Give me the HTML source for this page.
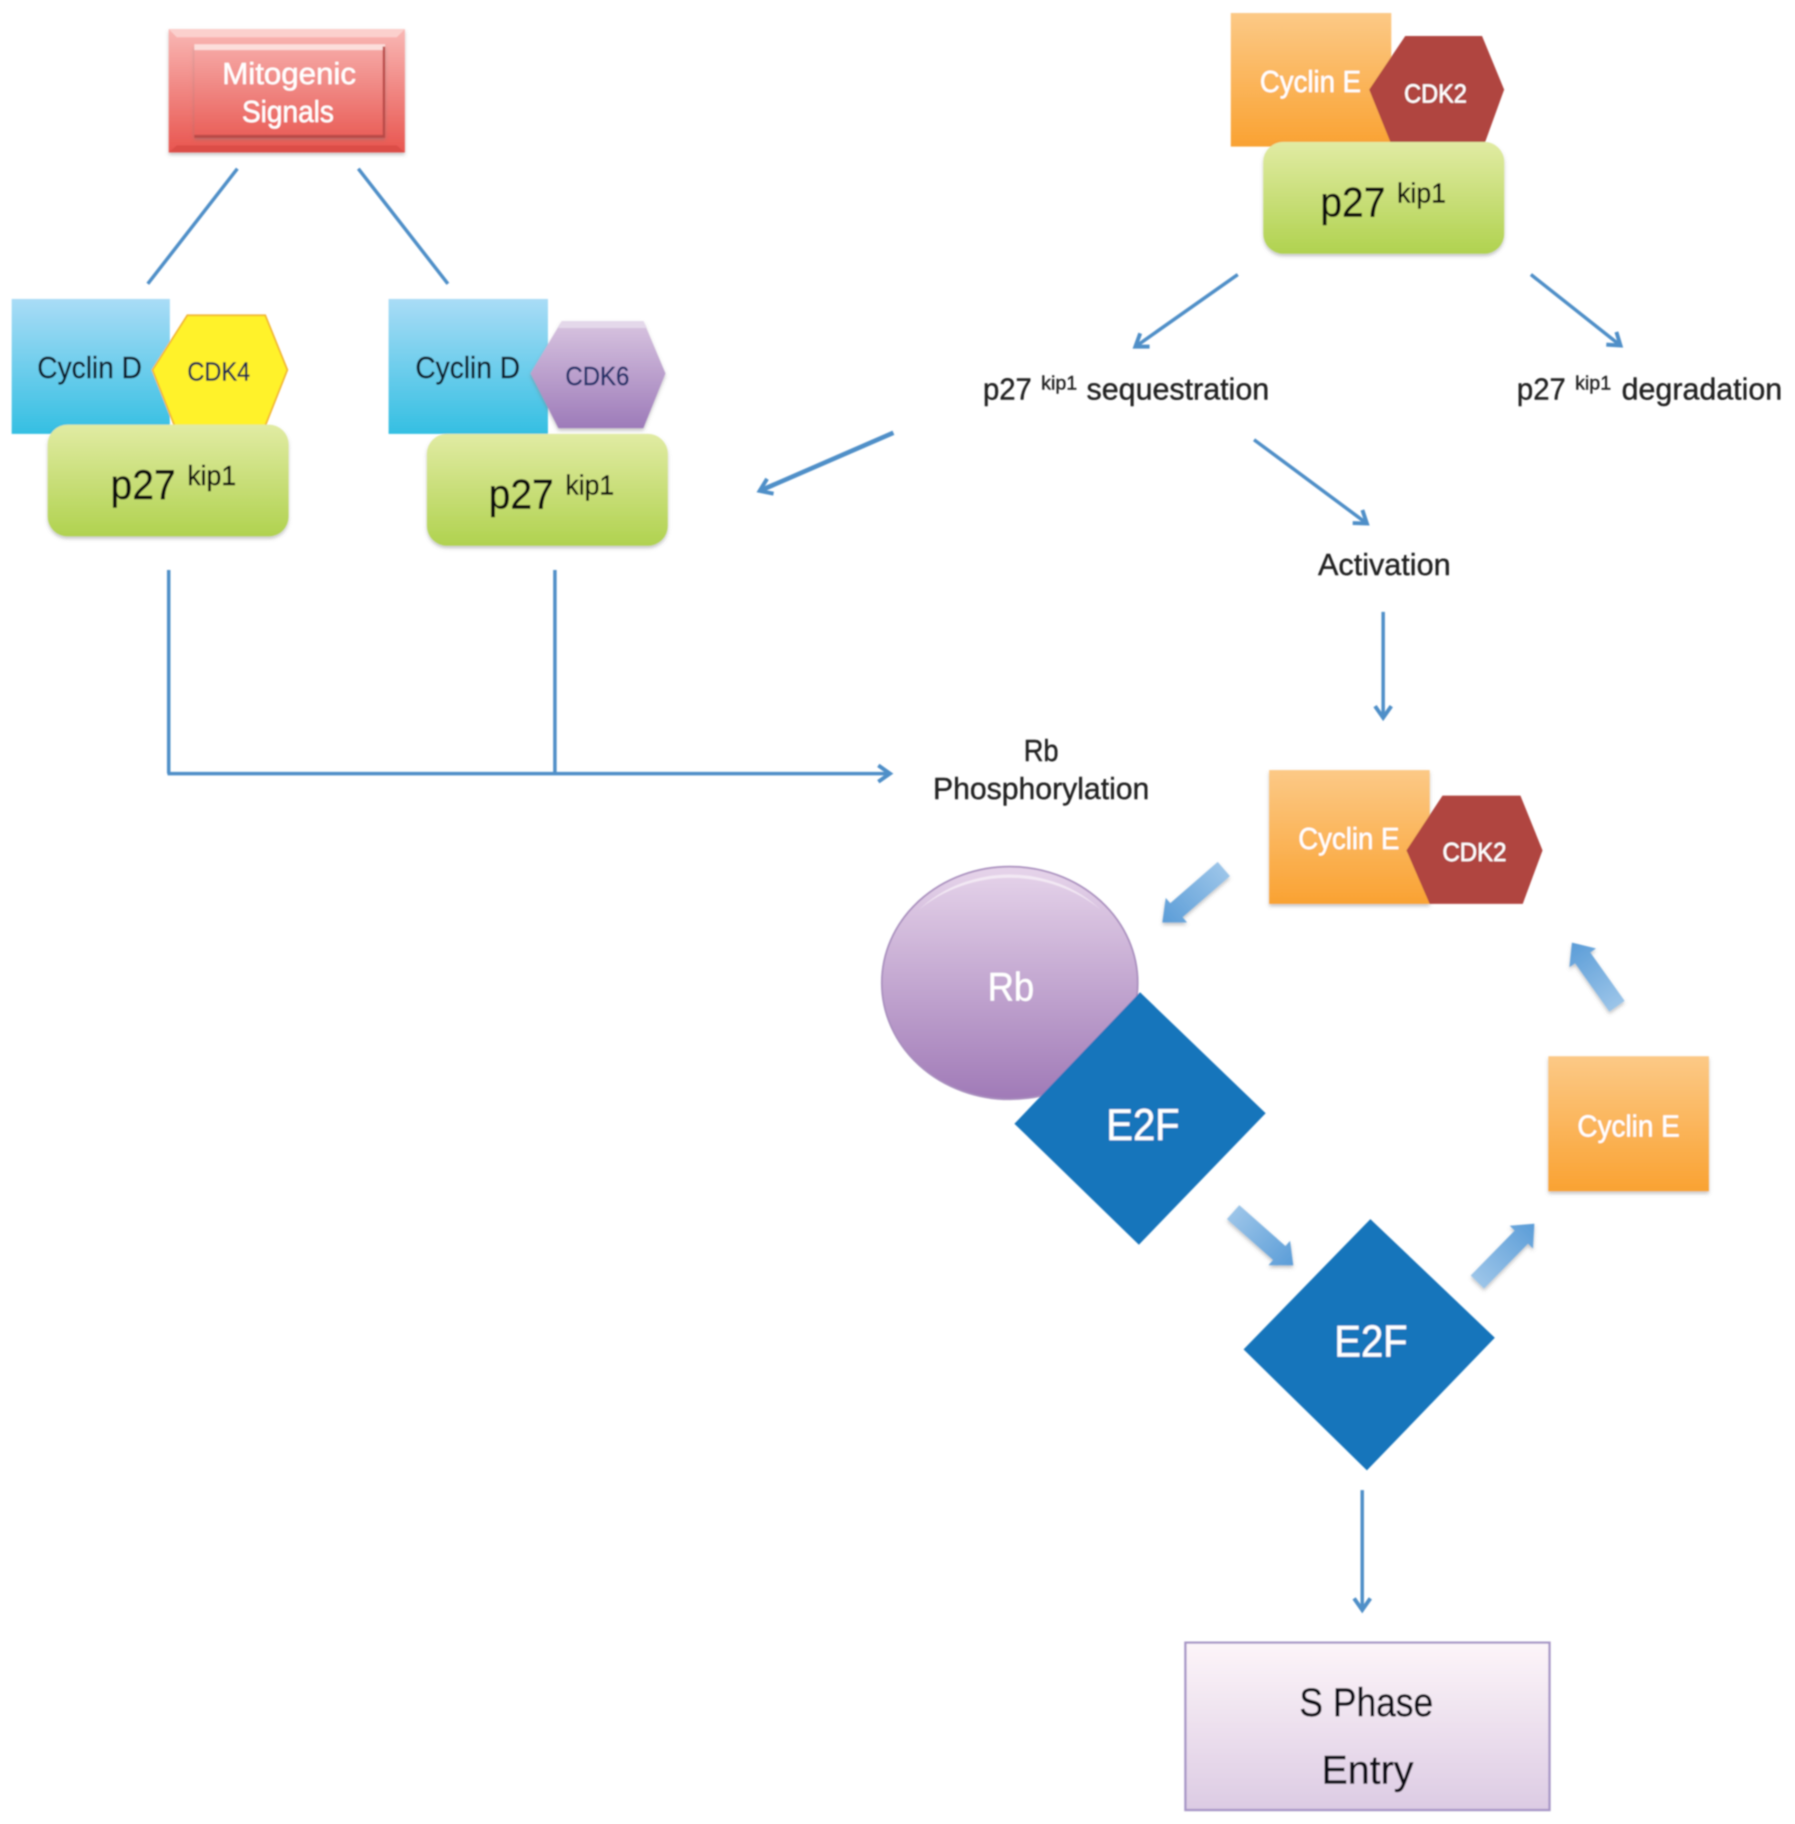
<!DOCTYPE html>
<html><head><meta charset="utf-8"><style>
html,body{margin:0;padding:0;background:#fff;width:1795px;height:1824px;overflow:hidden}
svg{display:block}
text{font-family:"Liberation Sans",sans-serif;stroke:currentColor;stroke-width:.35}
</style></head><body>
<svg width="1795" height="1824" viewBox="0 0 1543 1568" xmlns="http://www.w3.org/2000/svg">
<defs>
<linearGradient id="cd" x1="0" y1="0" x2="0" y2="1"><stop offset="0" stop-color="#a9dcf6"/><stop offset="1" stop-color="#34bfe2"/></linearGradient>
<linearGradient id="ce" x1="0" y1="0" x2="0" y2="1"><stop offset="0" stop-color="#fcc986"/><stop offset="1" stop-color="#f9a232"/></linearGradient>
<linearGradient id="p" x1="0" y1="0" x2="0" y2="1"><stop offset="0" stop-color="#e1eba3"/><stop offset="1" stop-color="#b0d24f"/></linearGradient>
<linearGradient id="r" x1="0" y1="0" x2="0" y2="1"><stop offset="0" stop-color="#f9b7b4"/><stop offset="1" stop-color="#e8554f"/></linearGradient>
<linearGradient id="r2" x1="0" y1="0" x2="0" y2="1"><stop offset="0" stop-color="#f6a9a6"/><stop offset="1" stop-color="#e95f59"/></linearGradient>
<linearGradient id="v" x1="0" y1="0" x2="0" y2="1"><stop offset="0" stop-color="#d8c4e0"/><stop offset="1" stop-color="#9d7bb9"/></linearGradient>
<linearGradient id="rb" x1="0" y1="0" x2="0" y2="1"><stop offset="0" stop-color="#e6d4ea"/><stop offset="1" stop-color="#a07ab7"/></linearGradient>
<linearGradient id="s" x1="0" y1="0" x2="0" y2="1"><stop offset="0" stop-color="#fdf5f9"/><stop offset="1" stop-color="#dccbe3"/></linearGradient>
<linearGradient id="b" x1="0" y1="0" x2="1" y2="0"><stop offset="0" stop-color="#9cc5e9"/><stop offset="1" stop-color="#5b9dd8"/></linearGradient>
<marker id="a" markerUnits="userSpaceOnUse" markerWidth="20" markerHeight="20" refX="14" refY="10" orient="auto" viewBox="0 0 20 20"><path d="M4,3 L14,10 L4,17" fill="none" stroke="#4f8fc8" stroke-width="3.4"/></marker>
<filter id="soft" x="-2%" y="-2%" width="104%" height="104%"><feGaussianBlur stdDeviation="0.7"/></filter>
<filter id="sh" x="-10%" y="-10%" width="120%" height="125%"><feDropShadow dx="0" dy="2" stdDeviation="1.5" flood-color="#777" flood-opacity=".45"/></filter>
</defs>
<rect width="1543" height="1568" fill="#fff"/>
<g filter="url(#soft)">
<!-- Mitogenic -->
<rect x="145" y="25" width="203" height="106" fill="url(#r)" filter="url(#sh)"/>
<polygon points="145,25 348,25 341,32 152,32" fill="#fbd0cd"/>
<polygon points="145,131 348,131 341,125 152,125" fill="#dc4d47"/>
<rect x="167" y="39" width="164" height="79" fill="url(#r2)" filter="url(#sh)"/>
<rect x="167" y="38" width="164" height="5" fill="#fcdedb"/>
<rect x="329" y="40" width="2" height="78" fill="#b94a46"/>
<rect x="167" y="116" width="164" height="2.5" fill="#b94a46"/>
<text x="191" y="72" font-size="26" fill="#fff" color="#fff" textLength="115" lengthAdjust="spacingAndGlyphs">Mitogenic</text>
<text x="208" y="105" font-size="26" fill="#fff" color="#fff" textLength="79" lengthAdjust="spacingAndGlyphs">Signals</text>
<!-- lines -->
<g stroke="#4f8fc8" stroke-width="3" fill="none">
<path d="M204,145 L127,244"/><path d="M308,145 L385,244"/>
<path d="M145,490 V665"/><path d="M477,490 V665"/>
<path d="M144,665 H765" marker-end="url(#a)"/>
<path d="M768,372 L653,422" stroke-width="4" marker-end="url(#a)"/>
<path d="M1064,236 L976,298" marker-end="url(#a)"/>
<path d="M1316,236 L1393,297" marker-end="url(#a)"/>
<path d="M1078,378 L1175,450" marker-end="url(#a)"/>
<path d="M1189,526 V617" marker-end="url(#a)"/>
<path d="M1171,1281 V1384" marker-end="url(#a)"/>
</g>
<!-- Left complex 1 -->
<rect x="10" y="257" width="136" height="116" fill="url(#cd)"/>
<polygon points="131,318 161,271 228,271 247,318 228,366 150,366" fill="#fff22b" stroke="#f2b632" stroke-width="1.5"/>
<rect x="41" y="365" width="207" height="96" rx="17" fill="url(#p)" filter="url(#sh)"/>
<text x="32" y="325" font-size="26" fill="#101a2c" color="#101a2c" textLength="90" lengthAdjust="spacingAndGlyphs">Cyclin D</text>
<text x="161" y="327" font-size="22" fill="#1c2c50" color="#1c2c50" textLength="54" lengthAdjust="spacingAndGlyphs">CDK4</text>
<text x="95" y="429" font-size="36" fill="#0c0c0c" color="#0c0c0c" textLength="56" lengthAdjust="spacingAndGlyphs">p27</text>
<text x="161" y="417" font-size="24" fill="#0c0c0c" color="#0c0c0c" textLength="42" lengthAdjust="spacingAndGlyphs">kip1</text>
<!-- Left complex 2 -->
<rect x="334" y="257" width="137" height="116" fill="url(#cd)"/>
<polygon points="456,321 483,276 553,276 572,321 553,368 480,368" fill="url(#v)" filter="url(#sh)"/>
<polygon points="483,276 553,276 556,282 480,282" fill="#e4d8ea"/>
<rect x="367" y="373" width="207" height="96" rx="17" fill="url(#p)" filter="url(#sh)"/>
<text x="357" y="325" font-size="26" fill="#101a2c" color="#101a2c" textLength="90" lengthAdjust="spacingAndGlyphs">Cyclin D</text>
<text x="486" y="331" font-size="22" fill="#22306a" color="#22306a" textLength="55" lengthAdjust="spacingAndGlyphs">CDK6</text>
<text x="420" y="437" font-size="36" fill="#0c0c0c" color="#0c0c0c" textLength="56" lengthAdjust="spacingAndGlyphs">p27</text>
<text x="486" y="425" font-size="24" fill="#0c0c0c" color="#0c0c0c" textLength="42" lengthAdjust="spacingAndGlyphs">kip1</text>
<!-- Top right complex -->
<rect x="1058" y="11" width="138" height="115" fill="url(#ce)"/>
<polygon points="1177,77 1208,31 1274,31 1293,77 1276,124 1196,124" fill="#b0443f"/>
<rect x="1086" y="122" width="207" height="96" rx="17" fill="url(#p)" filter="url(#sh)"/>
<text x="1083" y="79" font-size="26" fill="#fff" color="#fff" textLength="87" lengthAdjust="spacingAndGlyphs">Cyclin E</text>
<text x="1207" y="88" font-size="22" fill="#fff" color="#fff" textLength="54" lengthAdjust="spacingAndGlyphs">CDK2</text>
<text x="1135" y="186" font-size="36" fill="#0c0c0c" color="#0c0c0c" textLength="56" lengthAdjust="spacingAndGlyphs">p27</text>
<text x="1201" y="174" font-size="24" fill="#0c0c0c" color="#0c0c0c" textLength="42" lengthAdjust="spacingAndGlyphs">kip1</text>
<!-- Labels -->
<g fill="#222" color="#222">
<text x="845" y="343.500" font-size="26" textLength="42" lengthAdjust="spacingAndGlyphs">p27</text>
<text x="895" y="335" font-size="17" textLength="31" lengthAdjust="spacingAndGlyphs">kip1</text>
<text x="934" y="343.500" font-size="26" textLength="157" lengthAdjust="spacingAndGlyphs">sequestration</text>
<text x="1304" y="343.500" font-size="26" textLength="42" lengthAdjust="spacingAndGlyphs">p27</text>
<text x="1354" y="335" font-size="17" textLength="31" lengthAdjust="spacingAndGlyphs">kip1</text>
<text x="1394" y="343.500" font-size="26" textLength="138" lengthAdjust="spacingAndGlyphs">degradation</text>
<text x="1133" y="494.500" font-size="26" textLength="114" lengthAdjust="spacingAndGlyphs">Activation</text>
<text x="880" y="654" font-size="26" textLength="30" lengthAdjust="spacingAndGlyphs">Rb</text>
<text x="802" y="687" font-size="26" textLength="186" lengthAdjust="spacingAndGlyphs">Phosphorylation</text>
</g>
<!-- Middle Cyclin E -->
<rect x="1091" y="662" width="138" height="115" fill="url(#ce)" filter="url(#sh)"/>
<polygon points="1209,731 1240,684 1307,684 1326,731 1309,777 1229,777" fill="#b0443f"/>
<text x="1116" y="730" font-size="26" fill="#fff" color="#fff" textLength="87" lengthAdjust="spacingAndGlyphs">Cyclin E</text>
<text x="1240" y="740" font-size="22" fill="#fff" color="#fff" textLength="55" lengthAdjust="spacingAndGlyphs">CDK2</text>
<!-- Rb + E2F -->
<ellipse cx="868" cy="845" rx="110" ry="100" fill="url(#rb)" stroke="#a98fbe" stroke-width="1.5"/>
<path d="M790,782 A108,98 0 0 1 946,782 A112,97 0 0 0 790,782 Z" fill="#f3e9f4"/>
<text x="849" y="860" font-size="34" fill="#fff" color="#fff" textLength="40" lengthAdjust="spacingAndGlyphs">Rb</text>
<polygon points="980,853 1088,957 979,1070 872,966" fill="#1474bb"/>
<text x="951" y="980" font-size="38" fill="#fff" color="#fff" textLength="63" lengthAdjust="spacingAndGlyphs">E2F</text>
<polygon points="1178,1048 1285,1150 1175,1264 1069,1160" fill="#1474bb"/>
<text x="1147" y="1166" font-size="38" fill="#fff" color="#fff" textLength="63" lengthAdjust="spacingAndGlyphs">E2F</text>
<!-- Cyclin E right -->
<rect x="1331" y="908" width="138" height="116" fill="url(#ce)" filter="url(#sh)"/>
<text x="1356" y="977" font-size="26" fill="#fff" color="#fff" textLength="88" lengthAdjust="spacingAndGlyphs">Cyclin E</text>
<!-- Block arrows -->
<g filter="url(#sh)">
<path transform="translate(1052,747) rotate(139)" d="M0,-8 H54 V-14 L70,0 L54,14 V8 H0 Z" fill="url(#b)"/>
<path transform="translate(1390,865) rotate(-125.3)" d="M0,-8 H51 V-14 L67,0 L51,14 V8 H0 Z" fill="url(#b)"/>
<path transform="translate(1060,1042) rotate(41.5)" d="M0,-8 H53 V-14 L69,0 L53,14 V8 H0 Z" fill="url(#b)"/>
<path transform="translate(1270,1102) rotate(-45.6)" d="M0,-8 H54 V-14 L70,0 L54,14 V8 H0 Z" fill="url(#b)"/>
</g>
<!-- S Phase -->
<rect x="1019" y="1412" width="313" height="144" fill="url(#s)" stroke="#a796c6" stroke-width="2"/>
<text x="1117" y="1475" font-size="34" fill="#0c0c14" color="#0c0c14" textLength="115" lengthAdjust="spacingAndGlyphs">S Phase</text>
<text x="1136" y="1533" font-size="34" fill="#0c0c14" color="#0c0c14" textLength="79" lengthAdjust="spacingAndGlyphs">Entry</text>
</g>
</svg>
</body></html>
